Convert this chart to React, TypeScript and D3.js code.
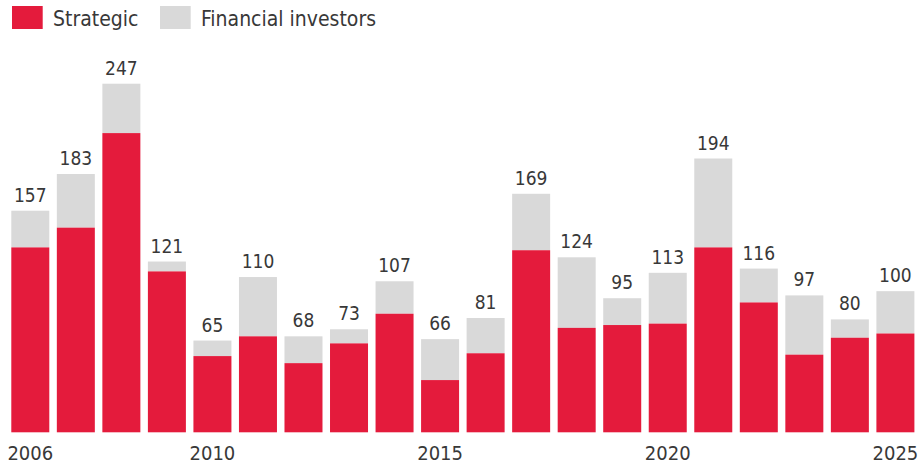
import React from "react";
import * as d3 from "d3";

const years = [2006,2007,2008,2009,2010,2011,2012,2013,2014,2015,2016,2017,2018,2019,2020,2021,2022,2023,2024,2025];
const totals = [157,183,247,121,65,110,68,73,107,66,81,169,124,95,113,194,116,97,80,100];
const strategic = [131,145,212,114,54,68,49,63,84,37,56,129,74,76,77,131,92,55,67,70];
const tickYears = [2006,2010,2015,2020,2025];
const seriesNames = ["Strategic", "Financial investors"];

const W = 918, H = 465;
const RED = "#E41B3C", GRAY = "#D9D9D9", TEXT = "#383838";
const FONT = "'DejaVu Sans Condensed', 'DejaVu Sans', sans-serif";

export default function App() {
  const x = d3.scaleBand<number>().domain(years).range([11.3, 914.4]).paddingInner(0.1654).paddingOuter(0);
  const y = d3.scaleLinear().domain([0, 247]).range([432.3, 83.7]);
  const bw = x.bandwidth();
  return (
    <svg width={W} height={H} style={{ position: "absolute", left: 0, top: 0 }} fontFamily={FONT}>
      <rect x={12} y={6} width={30.7} height={23} fill={RED} />
      <text x={53} y={26} fontSize={21} fill={TEXT}>{seriesNames[0]}</text>
      <rect x={160} y={6} width={30.7} height={23} fill={GRAY} />
      <text x={201} y={26} fontSize={21} fill={TEXT}>{seriesNames[1]}</text>
      {years.map((yr, i) => {
        const x0 = x(yr)!;
        return (
          <g key={yr}>
            <rect x={x0} y={y(totals[i])} width={bw} height={y(strategic[i]) - y(totals[i])} fill={GRAY} />
            <rect x={x0} y={y(strategic[i])} width={bw} height={y(0) - y(strategic[i])} fill={RED} />
            <text x={x0 + bw / 2} y={y(totals[i]) - 9} textAnchor="middle" fontSize={19} fill={TEXT}>{totals[i]}</text>
          </g>
        );
      })}
      {tickYears.map((t) => (
        <text key={t} x={x(t)! + bw / 2} y={460} textAnchor="middle" fontSize={20} fill={TEXT}>{t}</text>
      ))}
    </svg>
  );
}
